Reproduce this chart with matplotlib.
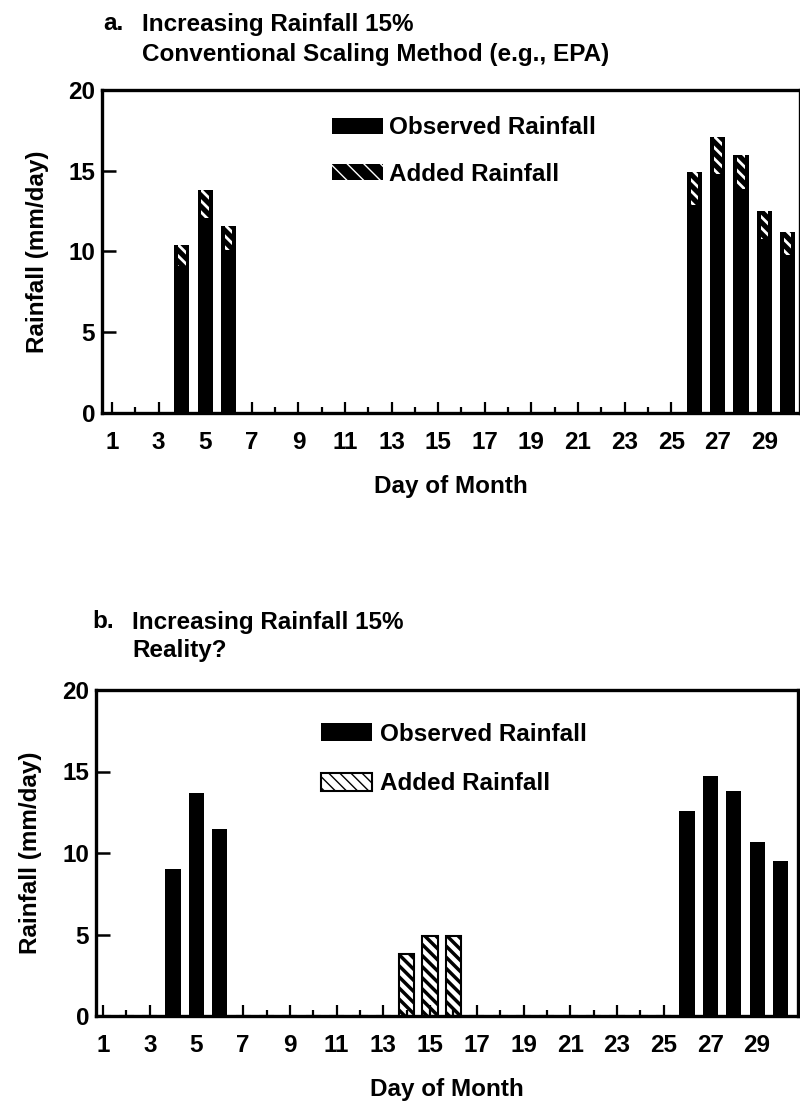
import matplotlib
matplotlib.use("Agg")
import matplotlib.pyplot as plt
from matplotlib.ticker import FixedLocator
from matplotlib.patches import Patch

plt.rcParams['font.family'] = ['Liberation Sans', 'DejaVu Sans']
plt.rcParams['font.weight'] = 'bold'
plt.rcParams['axes.labelweight'] = 'bold'

# ---- data ----
days = list(range(1, 31))
# Panel a: conventional scaling (observed + 15% added on each rain day)
a_observed = [0, 0, 0, 9.1, 12.1, 10.1, 0, 0, 0, 0,
              0, 0, 0, 0, 0, 0, 0, 0, 0, 0,
              0, 0, 0, 0, 0, 12.9, 14.8, 13.9, 10.8, 9.8]
a_added = [0, 0, 0, 1.3, 1.7, 1.5, 0, 0, 0, 0,
           0, 0, 0, 0, 0, 0, 0, 0, 0, 0,
           0, 0, 0, 0, 0, 2.0, 2.3, 2.1, 1.7, 1.4]
# Panel b: reality? (added rainfall falls on separate days)
b_observed = [0, 0, 0, 9.0, 13.7, 11.5, 0, 0, 0, 0,
              0, 0, 0, 0, 0, 0, 0, 0, 0, 0,
              0, 0, 0, 0, 0, 12.6, 14.7, 13.8, 10.7, 9.5]
b_added = [0, 0, 0, 0, 0, 0, 0, 0, 0, 0,
           0, 0, 0, 3.8, 4.9, 4.9, 0, 0, 0, 0,
           0, 0, 0, 0, 0, 0, 0, 0, 0, 0]
major_days = list(range(1, 30, 2))
minor_days = list(range(2, 31, 2))
y_ticks = [0, 5, 10, 15, 20]

series_labels = ["Observed Rainfall", "Added Rainfall"]
title_a = ["a.", "Increasing Rainfall 15%", "Conventional Scaling Method (e.g., EPA)"]
title_b = ["b.", "Increasing Rainfall 15%", "Reality?"]

FS = 17.5
W, H = 800, 1101
fig = plt.figure(figsize=(W / 100, H / 100), dpi=100)


def px_axes(left, top, right, bottom):
    return fig.add_axes([left / W, 1 - bottom / H, (right - left) / W, (bottom - top) / H])


def style_axes(ax, xlim):
    ax.set_xlim(*xlim)
    ax.set_ylim(0, 20)
    ax.xaxis.set_major_locator(FixedLocator(major_days))
    ax.xaxis.set_minor_locator(FixedLocator(minor_days))
    ax.set_xticklabels([str(d) for d in major_days])
    ax.set_yticks(y_ticks)
    ax.tick_params(axis='x', which='major', direction='in', length=8, width=1.6,
                   labelsize=FS, pad=13)
    ax.tick_params(axis='x', which='minor', direction='in', length=4, width=1.6)
    ax.tick_params(axis='y', which='major', direction='in', length=10, width=1.8,
                   labelsize=FS, pad=5)
    for sp in ax.spines.values():
        sp.set_linewidth(2.4)
    ax.set_xlabel("Day of Month", fontsize=FS, labelpad=15)
    ax.set_ylabel("Rainfall (mm/day)", fontsize=FS)


BW = 0.65

# ---- panel a ----
axa = px_axes(102, 90, 800, 413)
axa.bar(days, a_observed, width=BW, color='black', linewidth=0)
axa.bar(days, a_added, width=BW, bottom=a_observed, color='black', linewidth=0)
with plt.rc_context({'hatch.linewidth': 2.0}):
    axa.bar(days, a_added, width=BW * 0.5, bottom=a_observed, facecolor='none',
            edgecolor='white', linewidth=0, hatch='\\\\\\')
    ha = [Patch(facecolor='black', edgecolor='black', linewidth=0),
          Patch(facecolor='black', edgecolor='white', linewidth=0, hatch='\\\\')]
style_axes(axa, (0.57, 30.53))
axa.yaxis.set_label_coords(-0.076, 0.5)
axa.legend(ha, series_labels, loc='upper left', bbox_to_anchor=(0.33, 0.918),
           frameon=False, fontsize=FS, handlelength=2.1, handleheight=0.65,
           handletextpad=0.25, labelspacing=0.95, borderpad=0, borderaxespad=0)

# ---- panel b ----
axb = px_axes(96, 690, 798, 1016)
axb.bar(days, b_observed, width=BW, color='black', linewidth=0)
with plt.rc_context({'hatch.linewidth': 2.5}):
    axb.bar(days, b_added, width=BW, facecolor='white', edgecolor='black',
            linewidth=1.5, hatch='\\\\\\')
    hb = [Patch(facecolor='black', edgecolor='black', linewidth=0),
          Patch(facecolor='white', edgecolor='black', linewidth=1.5, hatch='\\\\\\')]
style_axes(axb, (0.70, 30.75))
axb.yaxis.set_label_coords(-0.077, 0.5)
axb.legend(hb, series_labels, loc='upper left', bbox_to_anchor=(0.32, 0.90),
           frameon=False, fontsize=FS, handlelength=2.1, handleheight=0.8,
           handletextpad=0.35, labelspacing=1.1, borderpad=0, borderaxespad=0)

# ---- titles ----
fig.text(103 / W, 1 - 24 / H, title_a[0], fontsize=FS, va='center', ha='left')
fig.text(142 / W, 1 - 24 / H, title_a[1], fontsize=FS, va='center', ha='left')
fig.text(142 / W, 1 - 54 / H, title_a[2], fontsize=FS, va='center', ha='left')
fig.text(92 / W, 1 - 622 / H, title_b[0], fontsize=FS, va='center', ha='left')
fig.text(132 / W, 1 - 622 / H, title_b[1], fontsize=FS, va='center', ha='left')
fig.text(132 / W, 1 - 651 / H, title_b[2], fontsize=FS, va='center', ha='left')

fig.savefig("out.png", dpi=100, facecolor='white')
